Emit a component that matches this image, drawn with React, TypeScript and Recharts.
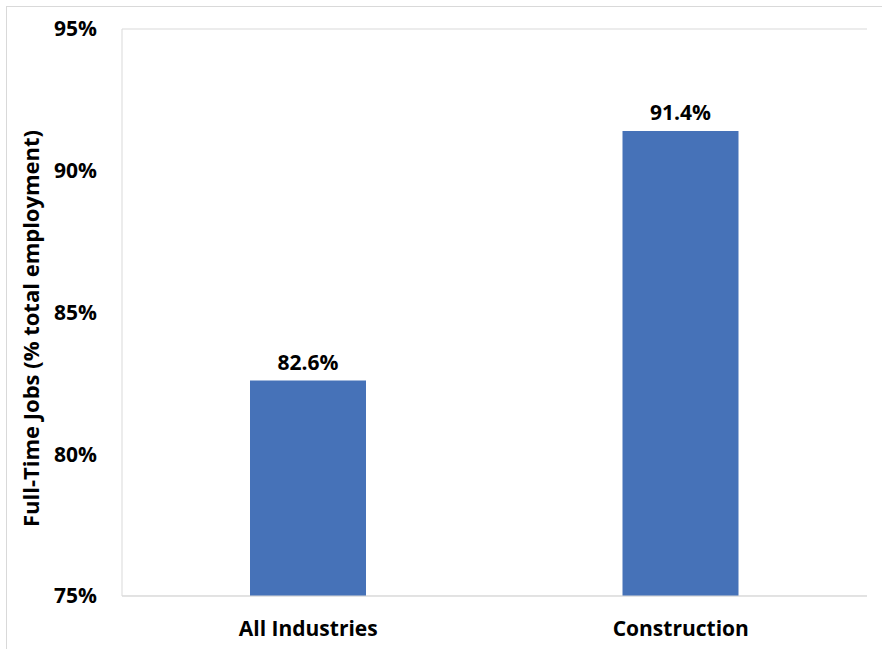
import React from "react";
import { BarChart, Bar, XAxis, YAxis, CartesianGrid, LabelList, Label } from "recharts";

const categories = ["All Industries", "Construction"];
const fullTimeShare = [82.6, 91.4];
const yTicks = [75, 80, 85, 90, 95];

const data = categories.map((name, i) => ({ name, value: fullTimeShare[i] }));

const FONT = "'Open Sans', 'Noto Sans', sans-serif";

export default function App() {
  return (
    <div style={{ position: "absolute", left: 0, top: 0, width: 882, height: 649, overflow: "hidden", background: "#fff" }}>
      <div style={{ position: "absolute", left: 6, top: 6, width: 1000, height: 1000, border: "1px solid #d9d9d9", boxSizing: "border-box" }} />
      <div style={{ position: "absolute", left: 0, top: 0 }}>
        <BarChart width={882} height={649} data={data} margin={{ top: 29, right: 15, bottom: 0, left: 0 }}>
          <CartesianGrid vertical={false} stroke="#d9d9d9" strokeWidth={1} />
          <XAxis
            dataKey="name"
            height={53}
            tickLine={false}
            tickSize={0}
            tickMargin={25}
            axisLine={{ stroke: "#d9d9d9" }}
            tick={{ fill: "#000", fontSize: 21, fontWeight: 700, fontFamily: FONT }}
          />
          <YAxis
            yAxisId="l"
            width={122}
            domain={[75, 95]}
            ticks={yTicks}
            tickFormatter={(v) => `${v}%`}
            tickLine={false}
            tickSize={0}
            tickMargin={25}
            axisLine={{ stroke: "#d9d9d9" }}
            tick={{ fill: "#000", fontSize: 21, fontWeight: 700, fontFamily: FONT }}
          >
            <Label
              value="Full-Time Jobs (% total employment)"
              angle={-90}
              position="insideLeft"
              offset={31}
              dy={16}
              style={{ textAnchor: "middle", fill: "#000", fontSize: 22, fontWeight: 700, fontFamily: FONT }}
            />
          </YAxis>
          <YAxis
            yAxisId="r"
            orientation="right"
            width={0}
            domain={[75, 95]}
            ticks={yTicks}
            tick={false}
            tickLine={false}
            axisLine={{ stroke: "#d9d9d9" }}
          />
          <Bar yAxisId="l" dataKey="value" fill="#4672B8" barSize={116} isAnimationActive={false}>
            <LabelList
              dataKey="value"
              position="top"
              offset={11}
              formatter={(v: number) => `${v.toFixed(1)}%`}
              style={{ fill: "#000", fontSize: 21, fontWeight: 700, fontFamily: FONT }}
            />
          </Bar>
        </BarChart>
      </div>
    </div>
  );
}
